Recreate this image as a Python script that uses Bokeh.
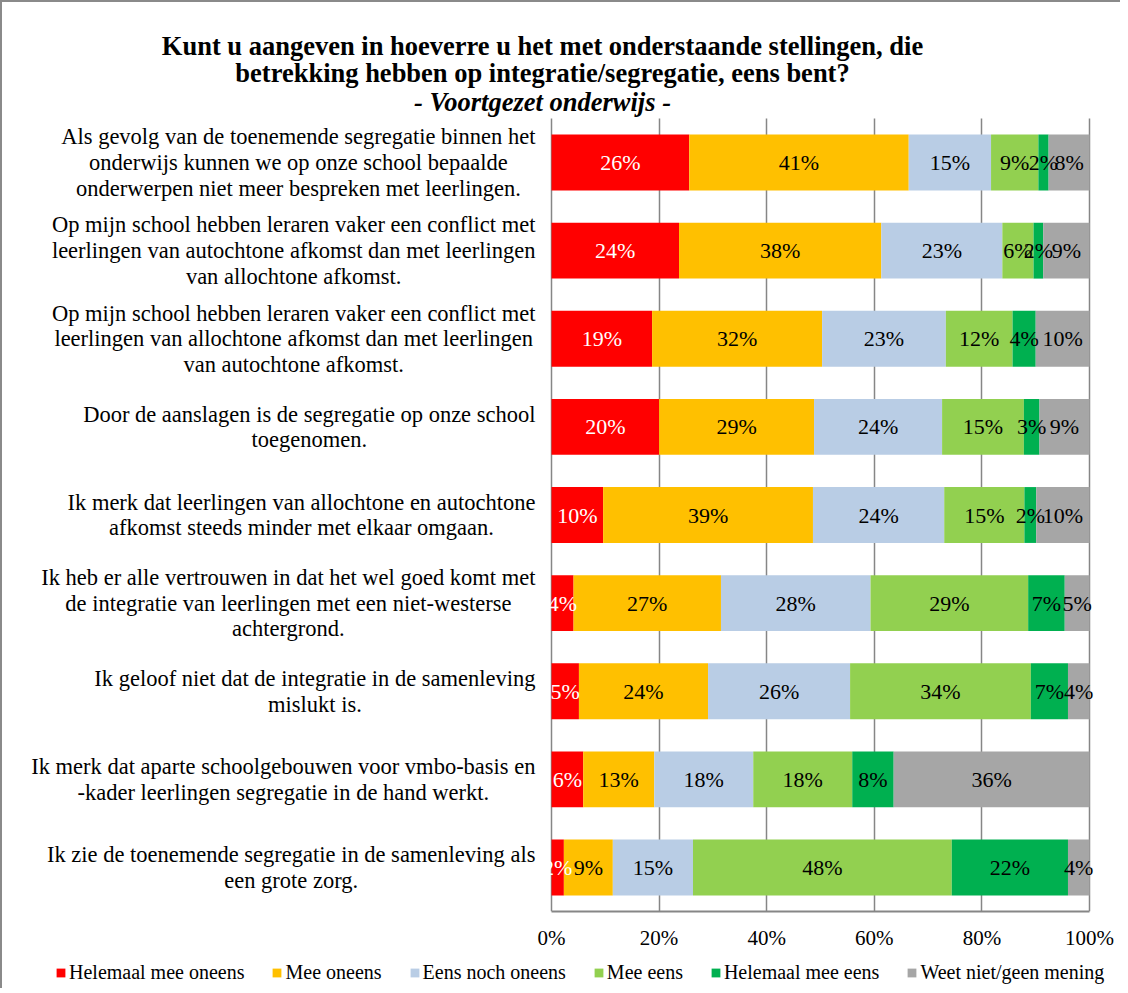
from bokeh.plotting import figure
from bokeh.layouts import column
from bokeh.models import (ColumnDataSource, Range1d, FixedTicker, PrintfTickFormatter, Legend,
                          Label, Grid)
from bokeh.embed import file_html
from bokeh.resources import INLINE
from bokeh.core.properties import value

# ---------------- data ----------------
statements = [
    "Als gevolg van de toenemende segregatie binnen het\nonderwijs kunnen we op onze school bepaalde\nonderwerpen niet meer bespreken met leerlingen.",
    "Op mijn school hebben leraren vaker een conflict met\nleerlingen van autochtone afkomst dan met leerlingen\nvan allochtone afkomst.",
    "Op mijn school hebben leraren vaker een conflict met\nleerlingen van allochtone afkomst dan met leerlingen\nvan autochtone afkomst.",
    "Door de aanslagen is de segregatie op onze school\ntoegenomen.",
    "Ik merk dat leerlingen van allochtone en autochtone\nafkomst steeds minder met elkaar omgaan.",
    "Ik heb er alle vertrouwen in dat het wel goed komt met\nde integratie van leerlingen met een niet-westerse\nachtergrond.",
    "Ik geloof niet dat de integratie in de samenleving\nmislukt is.",
    "Ik merk dat aparte schoolgebouwen voor vmbo-basis en\n-kader leerlingen segregatie in de hand werkt.",
    "Ik zie de toenemende segregatie in de samenleving als\neen grote zorg.",
]
series = ["Helemaal mee oneens", "Mee oneens", "Eens noch oneens",
          "Mee eens", "Helemaal mee eens", "Weet niet/geen mening"]
helemaal_oneens = [25.6, 23.7, 18.7, 20.0, 9.6, 4.1, 5.1, 5.9, 2.3]
mee_oneens      = [40.8, 37.6, 31.6, 28.8, 39.0, 27.4, 24.0, 13.2, 9.1]
eens_noch       = [15.3, 22.5, 23.0, 23.8, 24.4, 27.8, 26.4, 18.4, 14.9]
mee_eens        = [8.8, 5.8, 12.4, 15.2, 14.9, 29.3, 33.6, 18.4, 48.1]
helemaal_eens   = [1.9, 1.8, 4.3, 2.9, 2.2, 6.8, 6.9, 7.7, 21.6]
weet_niet       = [7.6, 8.6, 10.0, 9.3, 9.9, 4.6, 4.0, 36.4, 4.0]
x_ticks = [0, 20, 40, 60, 80, 100]
title_lines = ["Kunt u aangeven in hoeverre u het met onderstaande stellingen, die",
               "betrekking hebben op integratie/segregatie, eens bent?",
               "- Voortgezet onderwijs -"]

# ---------------- layout & styling ----------------
colors = ["#FF0000", "#FFC000", "#B9CDE5", "#92D050", "#00B050", "#A6A6A6"]
label_colors = ["white", "black", "black", "black", "black", "black"]
FONT = "Liberation Serif"
GRID = "#868686"
BORDER = "2px solid #8a8a8a"
SHIFT = 2                          # the chart border pushes the content by 2px

W = 1118
H_MAIN, H_LEG = 956 - SHIFT, 32
N = len(statements)
BB = 45                            # room for the x axis below the frame
FH = H_MAIN - BB                   # frame spans from the top of the canvas
PLOT_LEFT, PLOT_RIGHT = 551 - SHIFT, 1089 - SHIFT   # pixel extent of 0..100 %
PLOT_TOP = 118 - SHIFT                              # pixel top of the bar area
ux = 100.0 / (PLOT_RIGHT - PLOT_LEFT)        # data units per px (x)
uy = N / float(FH - PLOT_TOP)                # data units per px (y)
x_start = -PLOT_LEFT * ux
x_end = 100 + (W - PLOT_RIGHT) * ux
y_start = -0.5
y_end = N - 0.5 + PLOT_TOP * uy

keys = ["s0", "s1", "s2", "s3", "s4", "s5"]
series_values = [helemaal_oneens, mee_oneens, eens_noch, mee_eens, helemaal_eens, weet_niet]
ys = [N - 1 - i for i in range(N)]
src = ColumnDataSource(dict(y=ys, **{k: v for k, v in zip(keys, series_values)}))

p = figure(width=W, height=H_MAIN, output_backend="svg", toolbar_location=None,
           x_range=Range1d(x_start, x_end), y_range=Range1d(y_start, y_end), title=None,
           min_border_left=0, min_border_right=0, min_border_top=0, min_border_bottom=BB)
p.outline_line_color = None
p.background_fill_color = "white"
p.border_fill_color = "white"
p.yaxis.visible = False
p.ygrid.grid_line_color = None

# vertical gridlines limited to the bar area
p.xgrid.ticker = FixedTicker(ticks=x_ticks)
p.xgrid.grid_line_color = GRID
p.xgrid.grid_line_width = 1.5
if "cross_bounds" in Grid.properties():
    p.xgrid.cross_bounds = (y_start, N - 0.5)
else:
    p.xgrid.grid_line_color = None
    p.segment(x0=x_ticks, x1=x_ticks, y0=[y_start] * len(x_ticks),
              y1=[N - 0.5] * len(x_ticks), line_color=GRID, line_width=1.5, level="underlay")

renderers = p.hbar_stack(keys, y="y", height=0.634, color=colors, source=src, line_color=None)

# segment labels
lx, ly, lt, lc = [], [], [], []
for i in range(N):
    left = 0.0
    for k, vals in enumerate(series_values):
        v = vals[i]
        lx.append(left + v / 2.0)
        ly.append(ys[i])
        lt.append("%d%%" % int(v + 0.5))
        lc.append(label_colors[k])
        left += v
p.text(x="x", y="y", text="t", text_color="c",
       source=ColumnDataSource(dict(x=lx, y=ly, t=lt, c=lc)),
       text_align="center", text_baseline="middle",
       text_font=value(FONT), text_font_size="22px")

# x axis
p.xaxis.ticker = FixedTicker(ticks=x_ticks)
p.xaxis.bounds = (0, 100)
p.xaxis.formatter = PrintfTickFormatter(format="%d%%")
p.xaxis.axis_line_color = GRID
p.xaxis.axis_line_width = 2
p.xaxis.major_tick_line_color = None
p.xaxis.major_tick_out = 0
p.xaxis.major_tick_in = 0
p.xaxis.minor_tick_line_color = None
p.xaxis.major_label_text_font = FONT
p.xaxis.major_label_text_font_size = "21px"
p.xaxis.major_label_text_color = "black"
p.xaxis.major_label_standoff = 14

# Times-like widths (per 1000 em) used to centre wrapped text blocks
_reg = {" ": 250, ",": 250, "-": 333, ".": 250, "/": 278, "?": 444}
_reg.update(dict(zip("ABCDEFGHIJKLMNOPQRSTUVWXYZ",
                     [722, 667, 667, 722, 611, 556, 722, 722, 333, 389, 722, 611, 889,
                      722, 722, 556, 722, 667, 556, 611, 722, 722, 944, 722, 722, 611])))
_reg.update(dict(zip("abcdefghijklmnopqrstuvwxyz",
                     [444, 500, 444, 500, 444, 333, 500, 500, 278, 278, 500, 278, 778,
                      500, 500, 500, 500, 333, 389, 278, 500, 500, 722, 500, 500, 444])))

def text_width(s, size):
    return sum(_reg.get(ch, 500) for ch in s) / 1000.0 * size

# category labels: block right-aligned next to the bars, lines centred
CAT_SIZE = 22.5
GAP = 16
for i, s in enumerate(statements):
    wmax = max(text_width(line, CAT_SIZE) for line in s.split("\n"))
    p.add_layout(Label(x=-(GAP + wmax / 2.0) * ux, y=ys[i], text=s,
                       text_align="center", text_baseline="middle",
                       text_font=FONT, text_font_size="%.1fpx" % CAT_SIZE,
                       text_line_height=1.03, text_color="black"))

# title (three lines) centred slightly left of the bar area
title_x = -9 * ux
for line, top_px, style in zip(title_lines, [45, 72, 101], ["bold", "bold", "bold italic"]):
    p.add_layout(Label(x=title_x, y=N - 0.5 + (118 - top_px) * uy, text=line,
                       text_align="center", text_baseline="middle",
                       text_font=FONT, text_font_size="26.5px", text_font_style=style,
                       text_color="black"))

# legend strip below the chart: the same stacked bars, hidden, act as legend sources
leg = figure(width=W, height=H_LEG, output_backend="svg", toolbar_location=None,
             x_range=Range1d(0, 100), y_range=Range1d(-0.5, N - 0.5), title=None,
             min_border_left=0, min_border_right=0, min_border_top=0, min_border_bottom=0)
leg.axis.visible = False
leg.grid.visible = False
leg.outline_line_color = None
leg_renderers = leg.hbar_stack(keys, y="y", height=0.634, color=colors, source=src, line_color=None)
for r in leg_renderers:
    r.visible = False
legend = Legend(items=[(name, [r]) for name, r in zip(series, leg_renderers)],
                location=(55 - SHIFT, 4), orientation="horizontal",
                glyph_width=11, glyph_height=11, label_standoff=3, spacing=27,
                padding=0, margin=0, border_line_color=None, background_fill_alpha=0,
                inactive_fill_alpha=0,
                label_text_font=FONT, label_text_font_size="20px", label_text_color="black",
                label_height=18, label_text_baseline="middle")
leg.add_layout(legend, "center")

layout = column(p, leg, spacing=0, styles={"border-left": BORDER, "border-top": BORDER})
open("out.html", "w").write(file_html(layout, INLINE))
